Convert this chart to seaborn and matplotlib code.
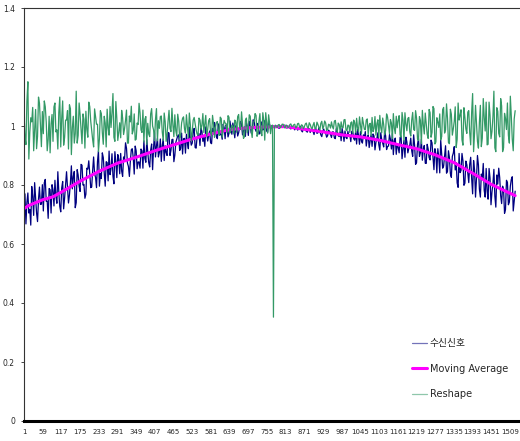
import numpy as np
import pandas as pd
import matplotlib
matplotlib.use('Agg')
import matplotlib.pyplot as plt
import seaborn as sns

# Sample index (every 3rd sample of the received signal).
sample = np.arange(1, 1526, 3)

# 수신신호 - received signal.
received = [
    0.735, 0.770, 0.668, 0.741, 0.773, 0.705, 0.717, 0.664, 0.795, 0.761, 0.697, 0.808, 0.754, 0.705, 0.676, 0.752, 0.793, 0.734, 0.735, 0.801,
    0.712, 0.808, 0.819, 0.745, 0.746, 0.687, 0.788, 0.784, 0.705, 0.801, 0.783, 0.729, 0.816, 0.762, 0.738, 0.845, 0.776, 0.727, 0.709, 0.790,
    0.812, 0.719, 0.756, 0.803, 0.845, 0.792, 0.739, 0.766, 0.808, 0.865, 0.787, 0.829, 0.846, 0.723, 0.740, 0.852, 0.834, 0.796, 0.778, 0.870,
    0.867, 0.800, 0.802, 0.755, 0.769, 0.857, 0.854, 0.882, 0.839, 0.791, 0.793, 0.849, 0.895, 0.838, 0.826, 0.791, 0.879, 0.916, 0.796, 0.839,
    0.822, 0.909, 0.893, 0.840, 0.796, 0.879, 0.876, 0.814, 0.915, 0.835, 0.855, 0.906, 0.830, 0.804, 0.913, 0.878, 0.825, 0.903, 0.887, 0.838,
    0.907, 0.847, 0.829, 0.895, 0.887, 0.943, 0.925, 0.874, 0.863, 0.829, 0.881, 0.920, 0.923, 0.892, 0.837, 0.932, 0.916, 0.855, 0.878, 0.878,
    0.857, 0.922, 0.916, 0.857, 0.950, 0.891, 0.877, 0.954, 0.911, 0.876, 0.861, 0.918, 0.939, 0.852, 0.925, 0.978, 0.895, 0.932, 0.958, 0.895,
    0.910, 0.956, 0.880, 0.934, 0.956, 0.883, 0.933, 0.910, 0.900, 0.978, 0.976, 0.900, 0.918, 0.954, 0.955, 0.879, 0.901, 0.944, 0.956, 0.967,
    0.970, 0.917, 0.924, 0.976, 0.905, 0.957, 0.958, 0.908, 0.972, 0.943, 0.923, 0.996, 0.958, 0.935, 0.942, 0.982, 0.992, 0.927, 0.925, 0.962,
    0.968, 0.974, 0.934, 0.993, 0.982, 0.948, 0.961, 0.931, 0.997, 0.976, 0.949, 0.969, 0.983, 0.943, 0.940, 0.992, 0.975, 1.012, 0.998, 0.964,
    0.957, 1.007, 0.988, 0.970, 0.973, 0.955, 1.006, 0.995, 0.957, 1.004, 0.998, 0.963, 0.975, 1.017, 0.991, 0.972, 1.010, 0.990, 0.960, 1.001,
    1.000, 0.966, 0.977, 0.997, 1.015, 1.007, 0.970, 0.982, 0.997, 0.965, 1.011, 0.997, 0.968, 1.016, 1.000, 0.976, 0.987, 1.021, 1.017, 0.991,
    0.982, 1.009, 1.007, 0.973, 0.974, 1.003, 1.014, 0.986, 0.993, 1.018, 1.020, 0.983, 0.979, 1.015, 1.005, 0.993, 0.993, 1.000, 1.000, 0.996,
    0.995, 1.001, 1.000, 0.994, 0.992, 0.998, 1.002, 0.995, 0.997, 1.003, 1.002, 0.996, 0.993, 0.999, 0.997, 0.993, 0.990, 0.996, 0.998, 0.994,
    0.987, 0.996, 0.997, 0.986, 0.990, 0.993, 0.999, 0.984, 0.980, 0.994, 0.991, 0.985, 0.983, 0.979, 0.993, 0.991, 0.978, 0.989, 0.988, 0.981,
    0.971, 0.989, 0.990, 0.975, 0.977, 0.994, 0.983, 0.970, 0.964, 0.983, 0.990, 0.978, 0.976, 0.962, 0.967, 0.986, 0.982, 0.972, 0.961, 0.980,
    0.980, 0.960, 0.957, 0.991, 0.983, 0.967, 0.964, 0.981, 0.950, 0.992, 0.973, 0.948, 0.983, 0.961, 0.957, 0.982, 0.965, 0.970, 0.947, 0.982,
    0.981, 0.957, 0.952, 0.982, 0.939, 0.989, 0.968, 0.938, 0.981, 0.949, 0.942, 0.970, 0.961, 0.981, 0.932, 0.958, 0.969, 0.927, 0.950, 0.970,
    0.931, 0.973, 0.966, 0.919, 0.945, 0.958, 0.977, 0.936, 0.918, 0.977, 0.953, 0.942, 0.929, 0.981, 0.967, 0.920, 0.931, 0.932, 0.971, 0.955,
    0.922, 0.975, 0.903, 0.950, 0.959, 0.904, 0.940, 0.927, 0.909, 0.962, 0.965, 0.889, 0.922, 0.951, 0.894, 0.962, 0.946, 0.909, 0.924, 0.935,
    0.959, 0.916, 0.897, 0.970, 0.934, 0.870, 0.876, 0.938, 0.958, 0.897, 0.910, 0.955, 0.884, 0.921, 0.934, 0.874, 0.873, 0.938, 0.922, 0.893,
    0.885, 0.952, 0.943, 0.894, 0.852, 0.923, 0.906, 0.841, 0.923, 0.894, 0.841, 0.952, 0.906, 0.857, 0.864, 0.899, 0.933, 0.840, 0.846, 0.916,
    0.893, 0.838, 0.826, 0.897, 0.908, 0.930, 0.851, 0.876, 0.807, 0.792, 0.907, 0.842, 0.849, 0.907, 0.882, 0.799, 0.806, 0.881, 0.869, 0.841,
    0.808, 0.871, 0.894, 0.822, 0.770, 0.883, 0.851, 0.759, 0.822, 0.900, 0.868, 0.786, 0.759, 0.837, 0.825, 0.873, 0.781, 0.759, 0.856, 0.779,
    0.752, 0.856, 0.824, 0.733, 0.776, 0.805, 0.853, 0.762, 0.725, 0.834, 0.803, 0.857, 0.825, 0.764, 0.737, 0.796, 0.785, 0.704, 0.717, 0.816,
    0.809, 0.733, 0.742, 0.796, 0.819, 0.828, 0.712, 0.745, 0.779,
]

# Reshape - received signal divided by its moving average.
reshape = [
    1.042, 0.965, 0.937, 1.084, 1.150, 0.888, 0.979, 1.028, 1.014, 1.063, 0.916, 0.986, 1.056, 0.923, 0.965, 1.098, 1.077, 1.007, 0.930, 1.049,
    0.974, 1.085, 1.065, 1.013, 0.916, 0.955, 1.033, 0.909, 1.007, 1.039, 0.948, 1.065, 1.078, 0.980, 0.987, 0.922, 1.046, 1.098, 0.929, 1.026,
    1.085, 0.935, 0.961, 1.020, 1.020, 1.052, 0.922, 1.072, 1.059, 0.903, 0.994, 1.033, 0.942, 0.974, 1.118, 0.942, 0.968, 1.078, 1.039, 0.987,
    0.940, 1.041, 1.022, 0.925, 1.050, 0.988, 0.962, 1.081, 1.066, 1.017, 0.984, 0.954, 0.929, 1.058, 1.033, 1.006, 1.006, 0.913, 0.956, 1.052,
    1.042, 0.978, 0.938, 1.033, 1.010, 0.929, 1.057, 0.995, 0.969, 1.066, 0.995, 1.044, 1.110, 0.962, 0.948, 1.083, 1.026, 0.951, 0.979, 1.011,
    0.960, 1.053, 1.027, 0.971, 0.991, 1.019, 1.054, 0.942, 0.942, 1.034, 1.014, 1.067, 0.973, 0.986, 1.041, 0.952, 0.955, 1.010, 1.005, 1.077,
    1.045, 0.987, 0.978, 1.054, 0.946, 1.023, 1.032, 0.937, 1.009, 0.973, 0.964, 1.041, 1.059, 1.000, 0.987, 0.950, 1.023, 1.059, 0.950, 1.018,
    0.992, 1.032, 1.034, 0.980, 0.951, 1.044, 1.015, 0.948, 0.973, 1.016, 1.053, 0.992, 0.981, 1.060, 1.004, 0.964, 1.038, 0.984, 0.966, 1.040,
    1.016, 0.959, 0.968, 1.010, 1.026, 1.031, 0.990, 0.976, 1.038, 0.997, 0.962, 1.044, 1.006, 0.949, 0.981, 1.020, 1.029, 1.007, 0.987, 0.973,
    0.969, 1.027, 1.020, 0.988, 1.003, 1.042, 0.978, 1.006, 1.036, 0.967, 0.989, 1.018, 1.025, 0.976, 0.966, 1.036, 1.008, 0.961, 0.994, 1.012,
    1.015, 0.984, 0.968, 1.030, 1.025, 0.962, 0.995, 1.019, 1.010, 1.008, 0.978, 1.035, 1.030, 0.976, 0.985, 1.003, 0.998, 0.973, 1.020, 1.014,
    0.979, 1.032, 1.039, 0.994, 0.988, 1.048, 1.006, 0.958, 0.964, 1.019, 1.027, 0.978, 0.991, 1.038, 1.033, 0.984, 0.961, 1.013, 1.015, 1.042,
    1.036, 0.965, 0.973, 1.016, 1.042, 0.981, 0.967, 1.045, 1.018, 0.952, 1.045, 1.010, 0.976, 1.038, 1.010, 0.974, 1.001, 1.003, 0.352, 0.998,
    1.003, 0.997, 0.995, 1.004, 1.005, 0.994, 0.998, 1.006, 1.006, 0.998, 0.993, 1.003, 1.002, 0.995, 0.996, 1.005, 1.007, 0.998, 0.999, 1.004,
    1.006, 0.994, 0.996, 1.008, 1.009, 0.997, 0.992, 1.004, 1.002, 0.991, 0.998, 1.007, 1.010, 0.996, 0.993, 1.011, 1.005, 0.995, 0.990, 1.003,
    1.012, 0.990, 0.992, 1.013, 1.005, 0.995, 0.986, 1.009, 1.016, 0.991, 0.999, 1.017, 1.010, 0.985, 0.988, 1.006, 1.004, 0.993, 1.014, 0.998,
    0.990, 1.016, 1.019, 0.994, 0.979, 1.010, 1.005, 0.981, 1.014, 0.995, 0.994, 1.021, 1.022, 0.987, 0.984, 1.003, 1.002, 0.978, 1.011, 1.014,
    0.976, 1.020, 1.011, 0.978, 1.026, 0.993, 0.982, 1.031, 1.004, 0.974, 1.029, 1.009, 0.989, 0.987, 1.020, 1.024, 0.971, 1.004, 1.009, 0.967,
    1.029, 0.981, 0.992, 1.032, 0.969, 1.008, 1.021, 0.962, 1.036, 0.995, 0.977, 1.027, 1.005, 0.970, 0.984, 1.041, 1.031, 1.003, 0.974, 1.022,
    1.010, 0.957, 1.042, 0.993, 0.974, 1.033, 0.994, 1.020, 1.035, 0.970, 0.962, 1.046, 1.019, 0.950, 1.045, 1.007, 0.984, 1.026, 1.029, 0.980,
    0.966, 1.020, 1.046, 0.988, 0.985, 1.052, 1.027, 0.956, 0.951, 1.032, 1.019, 0.940, 1.053, 1.004, 0.973, 1.044, 1.008, 0.972, 0.958, 1.056,
    1.045, 0.962, 0.978, 1.066, 1.059, 0.939, 0.946, 1.028, 1.014, 0.995, 1.041, 0.953, 0.964, 1.056, 1.063, 0.976, 0.987, 1.075, 1.027, 0.944,
    0.940, 1.057, 1.040, 0.969, 0.990, 1.016, 1.065, 0.927, 0.955, 1.078, 1.020, 1.036, 1.055, 0.953, 0.935, 1.062, 1.030, 0.990, 0.975, 1.047,
    1.052, 0.977, 0.936, 1.046, 1.110, 0.913, 0.977, 1.070, 1.012, 0.948, 0.925, 1.012, 1.070, 0.930, 0.959, 1.093, 1.029, 0.983, 1.081, 0.936,
    0.938, 1.081, 1.037, 0.957, 0.981, 1.031, 1.118, 0.926, 0.913, 1.062, 1.050, 0.975, 0.963, 1.093, 1.068, 0.913, 0.926, 1.043, 1.025, 0.988,
    1.078, 0.968, 0.942, 1.101, 1.033, 0.955, 0.916, 1.024, 1.052,
]

# Moving Average of the received signal.
ma_sample = [1, 15, 30, 59, 91, 117, 175, 233, 291, 349, 407, 465, 523, 581,
             639, 697, 755, 813, 871, 929, 987, 1045, 1103, 1161, 1219, 1277,
             1335, 1393, 1451, 1509, 1525]
moving_avg = [0.720, 0.730, 0.737, 0.750, 0.760, 0.776, 0.813, 0.846, 0.874,
              0.894, 0.916, 0.936, 0.956, 0.973, 0.988, 0.994, 0.997, 0.998,
              0.989, 0.980, 0.970, 0.963, 0.952, 0.937, 0.923, 0.902, 0.876,
              0.840, 0.802, 0.772, 0.764]

x_ticks = list(range(1, 1510, 58))
y_ticks = [0, 0.2, 0.4, 0.6, 0.8, 1.0, 1.2, 1.4]
y_labels = ['0', '0.2', '0.4', '0.6', '0.8', '1', '1.2', '1.4']

sns.set_style('white')
plt.rcParams['font.family'] = ['DejaVu Sans', 'Noto Sans CJK KR']

fig = plt.figure(figsize=(5.2, 4.41), dpi=100)
ax = fig.add_axes([24 / 520, 1 - 421 / 441, 1 - 24 / 520, 413 / 441])

sns.lineplot(x=sample, y=received, color='#000080', lw=0.9,
             label='수신신호', ax=ax)
sns.lineplot(x=ma_sample, y=moving_avg, color='#ff00ff', lw=2.2,
             label='Moving Average', ax=ax)
sns.lineplot(x=sample, y=reshape, color='#339966', lw=0.9,
             label='Reshape', ax=ax)

ax.set_xlim(1, 1540)
ax.set_ylim(0, 1.4)
ax.set_xticks(x_ticks)
ax.set_xticklabels([str(t) for t in x_ticks], fontsize=5)
ax.set_yticks(y_ticks)
ax.set_yticklabels(y_labels, fontsize=5.5)
ax.tick_params(axis='y', length=2.5, width=0.6, pad=4, left=True)
ax.tick_params(axis='x', length=0, pad=6)
ax.set_xlabel('')
ax.set_ylabel('')

for side in ['left', 'top']:
    ax.spines[side].set_color('#333333')
    ax.spines[side].set_linewidth(0.8)
ax.spines['right'].set_visible(False)
ax.spines['bottom'].set_color('black')
ax.spines['bottom'].set_linewidth(2.2)

leg = ax.legend(loc='upper left', bbox_to_anchor=(0.765, 0.222),
                frameon=False, fontsize=7, handlelength=1.5,
                handletextpad=0.3, labelspacing=1.6)
for h in leg.get_lines()[::2]:
    h.set_alpha(0.55)

fig.savefig('out.png', dpi=100)
